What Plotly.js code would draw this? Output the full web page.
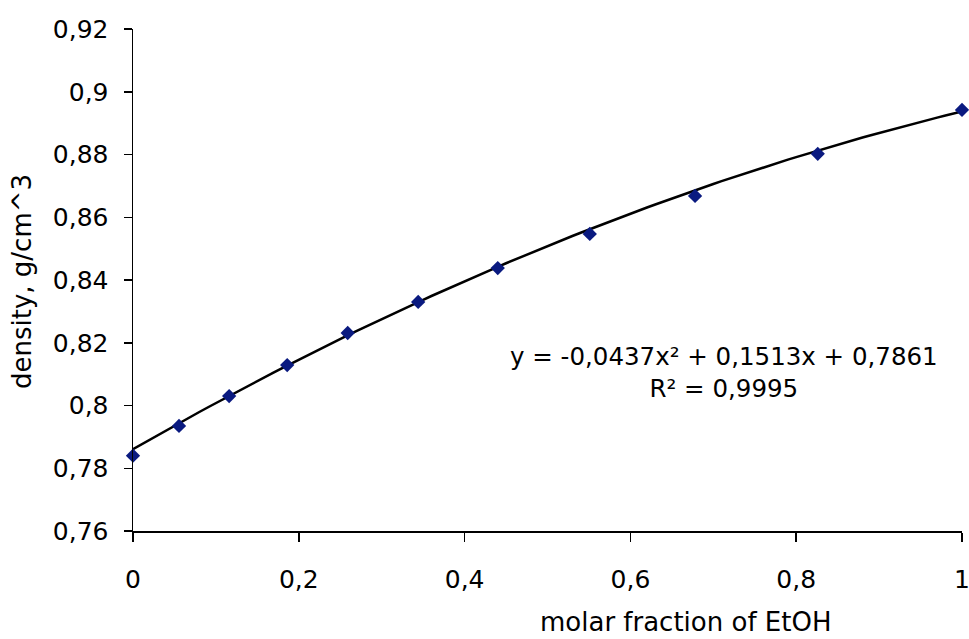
<!DOCTYPE html>
<html>
<head>
<meta charset="utf-8">
<script src="https://cdn.plot.ly/plotly-3.0.1.min.js"></script>
<style>html,body{margin:0;padding:0;background:#fff;}#chart{width:969px;height:639px;}</style>
</head>
<body>
<div id="chart"></div>
<script>
// Data
const molarFraction = [0, 0.0555, 0.116, 0.186, 0.259, 0.344, 0.440, 0.551, 0.678, 0.826, 1.0];
const density = [0.784, 0.7935, 0.803, 0.8129, 0.8231, 0.833, 0.8438, 0.8547, 0.8668, 0.8802, 0.8942];

// Trendline coefficients shown on the chart (a2, a1, a0)
const trendCoeffs = [-0.0437, 0.1513, 0.7861];
const trendLabel = "y = -0,0437x² + 0,1513x + 0,7861<br>R² = 0,9995";

const xTickVals = [0, 0.2, 0.4, 0.6, 0.8, 1];
const xTickText = ["0", "0,2", "0,4", "0,6", "0,8", "1"];
const yTickVals = [0.76, 0.78, 0.8, 0.82, 0.84, 0.86, 0.88, 0.9, 0.92];
const yTickText = ["0,76", "0,78", "0,8", "0,82", "0,84", "0,86", "0,88", "0,9", "0,92"];

const xTitle = "molar fraction of EtOH";
const yTitle = "density, g/cm^3";

// Trendline samples along x
const trendX = [];
for (let i = 0; i <= 100; i++) trendX.push(i / 100);
const trendY = trendX.map(x => trendCoeffs[0] * x * x + trendCoeffs[1] * x + trendCoeffs[2]);

const font = "DejaVu Sans, Verdana, sans-serif";

const data = [
  {
    x: trendX, y: trendY, mode: "lines", type: "scatter",
    line: {color: "#000000", width: 2.5}, hoverinfo: "skip", cliponaxis: false
  },
  {
    x: molarFraction, y: density, mode: "markers", type: "scatter",
    marker: {symbol: "diamond", size: 11, color: "#0a1a80"}, cliponaxis: false
  }
];

const layout = {
  width: 969, height: 639,
  margin: {l: 133, r: 7, t: 29, b: 108},
  showlegend: false,
  paper_bgcolor: "#ffffff", plot_bgcolor: "#ffffff",
  font: {family: font, size: 24, color: "#000000"},
  xaxis: {
    range: [0, 1], tickvals: xTickVals, ticktext: xTickText,
    showgrid: false, zeroline: false, showline: true, linecolor: "#000", linewidth: 1.5,
    ticks: "outside", ticklen: 9, tickwidth: 1.5, tickcolor: "#000",
    ticklabelstandoff: 16, ticklabeloverflow: "allow",
    tickfont: {family: font, size: 25, color: "#000"}
  },
  yaxis: {
    range: [0.76, 0.92], tickvals: yTickVals, ticktext: yTickText,
    showgrid: false, zeroline: false, showline: true, linecolor: "#000", linewidth: 1.5,
    ticks: "outside", ticklen: 8, tickwidth: 1.5, tickcolor: "#000",
    ticklabelstandoff: 10, ticklabeloverflow: "allow",
    tickfont: {family: font, size: 25, color: "#000"}
  },
  annotations: [
    {
      xref: "paper", yref: "paper", x: (685 - 133) / 829, y: (531 - 622) / 502,
      xanchor: "center", yanchor: "middle", showarrow: false,
      text: xTitle, font: {family: font, size: 26, color: "#000"}
    },
    {
      xref: "paper", yref: "paper", x: (22 - 133) / 829, y: (531 - 282) / 502,
      xanchor: "center", yanchor: "middle", showarrow: false, textangle: -90,
      text: yTitle, font: {family: font, size: 26, color: "#000"}
    },
    {
      xref: "paper", yref: "paper", x: (724 - 133) / 829, y: (531 - 372) / 502,
      xanchor: "center", yanchor: "middle", showarrow: false, align: "center",
      text: trendLabel, font: {family: font, size: 24.5, color: "#000"}
    }
  ]
};

Plotly.newPlot("chart", data, layout, {displayModeBar: false, staticPlot: true});
</script>
</body>
</html>
